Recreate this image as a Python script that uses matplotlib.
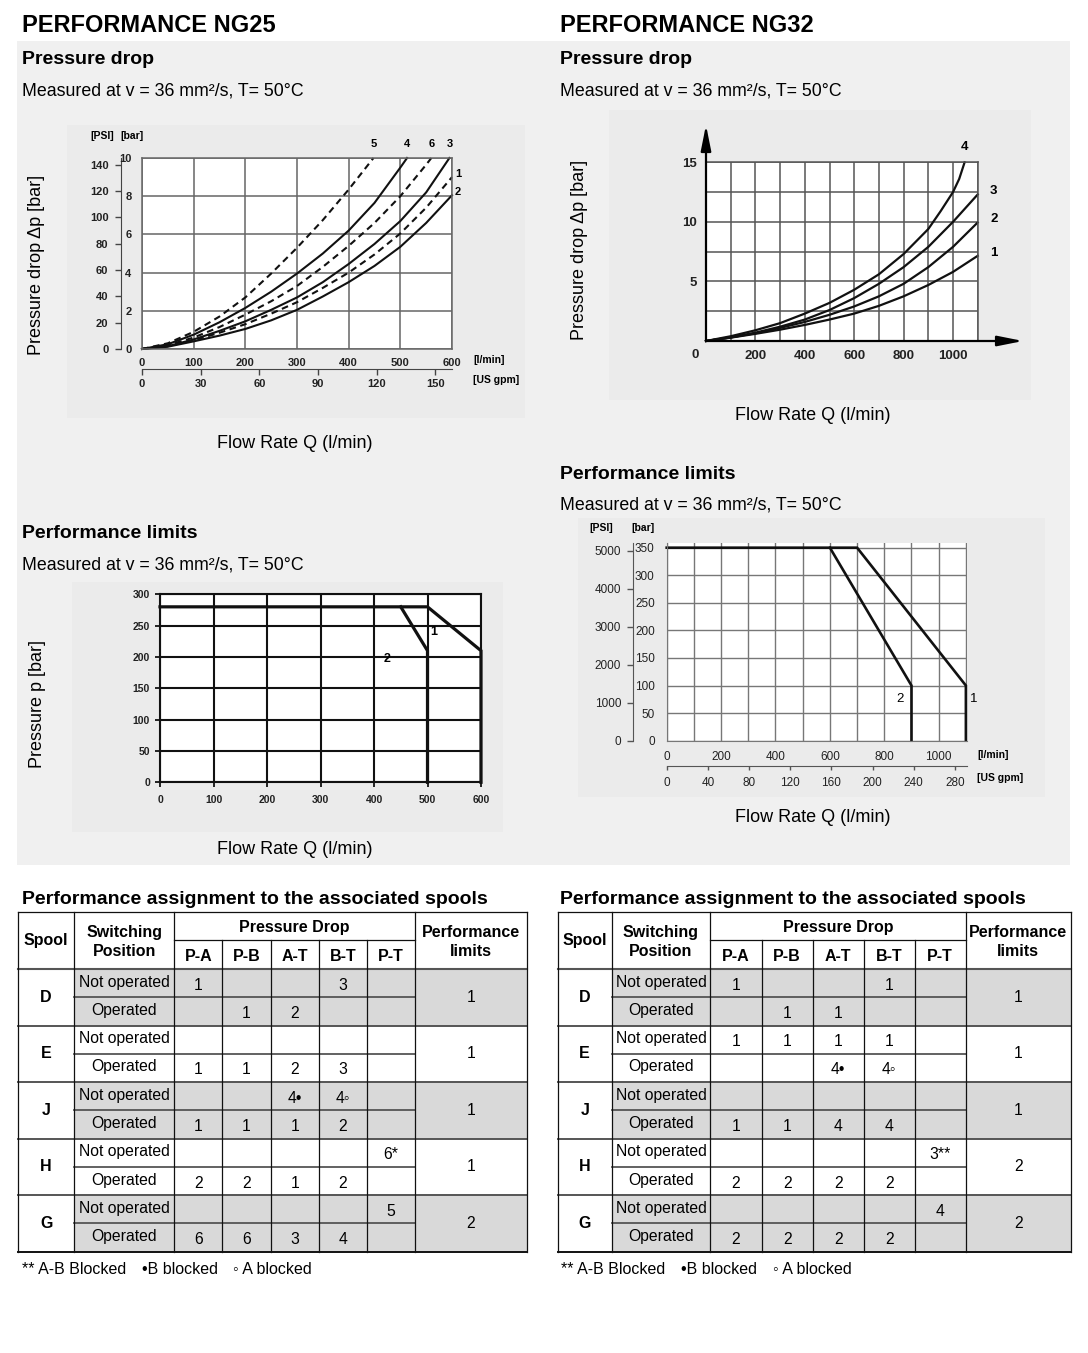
import matplotlib
matplotlib.use('Agg')
import matplotlib.pyplot as plt
from matplotlib.patches import Rectangle

plt.rcParams['font.family'] = ['Liberation Sans', 'DejaVu Sans']

# ---------------- data ----------------
# NG25 pressure drop, flow Q [l/min] vs dp [bar]
ng25_pd_labels = ['5', '4', '6', '3', '1', '2']
ng25_pd_dashed = [True, False, True, False, True, False]
ng25_pd_q = [
    [0, 50, 100, 150, 200, 250, 300, 350, 400, 448],
    [0, 50, 100, 150, 200, 250, 300, 350, 400, 450, 500, 513],
    [0, 50, 100, 150, 200, 250, 300, 350, 400, 450, 500, 550, 560],
    [0, 50, 100, 150, 200, 250, 300, 350, 400, 450, 500, 550, 595],
    [0, 50, 100, 150, 200, 250, 300, 350, 400, 450, 500, 550, 600],
    [0, 50, 100, 150, 200, 250, 300, 350, 400, 450, 500, 550, 600],
]
ng25_pd_dp = [
    [0, 0.3, 0.9, 1.7, 2.7, 3.95, 5.3, 6.75, 8.35, 10.0],
    [0, 0.25, 0.75, 1.4, 2.15, 3.0, 3.95, 5.0, 6.2, 7.65, 9.5, 10.0],
    [0, 0.2, 0.6, 1.15, 1.8, 2.5, 3.3, 4.3, 5.4, 6.6, 8.0, 9.65, 10.0],
    [0, 0.15, 0.5, 0.95, 1.45, 2.05, 2.7, 3.5, 4.45, 5.5, 6.7, 8.2, 10.0],
    [0, 0.15, 0.45, 0.85, 1.3, 1.85, 2.45, 3.2, 4.0, 4.95, 6.05, 7.4, 9.0],
    [0, 0.12, 0.4, 0.7, 1.05, 1.5, 2.05, 2.75, 3.5, 4.35, 5.35, 6.6, 8.05],
]

# NG32 pressure drop
ng32_pd_labels = ['4', '3', '2', '1']
ng32_pd_q = [
    [0, 100, 200, 300, 400, 500, 600, 700, 800, 900, 950, 1000, 1025, 1047],
    [0, 100, 200, 300, 400, 500, 600, 700, 800, 900, 1000, 1100],
    [0, 100, 200, 300, 400, 500, 600, 700, 800, 900, 1000, 1100],
    [0, 100, 200, 300, 400, 500, 600, 700, 800, 900, 1000, 1100],
]
ng32_pd_dp = [
    [0, 0.4, 0.9, 1.5, 2.3, 3.2, 4.3, 5.6, 7.3, 9.4, 10.9, 12.5, 13.6, 15.0],
    [0, 0.3, 0.7, 1.2, 1.8, 2.6, 3.6, 4.8, 6.2, 7.9, 10.0, 12.3],
    [0, 0.3, 0.65, 1.1, 1.6, 2.2, 2.9, 3.75, 4.8, 6.2, 7.9, 9.95],
    [0, 0.28, 0.6, 0.95, 1.35, 1.8, 2.3, 2.95, 3.75, 4.7, 5.8, 7.15],
]

# NG25 performance limits, Q [l/min] vs p [bar]
ng25_lim_labels = ['1', '2']
ng25_lim_q = [[0, 500, 600, 600], [450, 500, 500]]
ng25_lim_p = [[280, 280, 210, 0], [280, 210, 0]]
ng25_lim_label_xy = [(512, 240), (424, 197)]

# NG32 performance limits
ng32_lim_labels = ['1', '2']
ng32_lim_q = [[0, 700, 1100, 1100], [600, 900, 900]]
ng32_lim_p = [[350, 350, 100, 0], [350, 100, 0]]
ng32_lim_label_xy = [(1128, 76), (858, 76)]

# spool tables
spools = ['D', 'E', 'J', 'H', 'G']
positions = ['Not operated', 'Operated']
ports = ['P-A', 'P-B', 'A-T', 'B-T', 'P-T']
ng25_table = [
    ['1', '', '', '3', ''],
    ['', '1', '2', '', ''],
    ['', '', '', '', ''],
    ['1', '1', '2', '3', ''],
    ['', '', '4•', '4◦', ''],
    ['1', '1', '1', '2', ''],
    ['', '', '', '', '6*'],
    ['2', '2', '1', '2', ''],
    ['', '', '', '', '5'],
    ['6', '6', '3', '4', ''],
]
ng25_limits = ['1', '1', '1', '1', '2']
ng32_table = [
    ['1', '', '', '1', ''],
    ['', '1', '1', '', ''],
    ['1', '1', '1', '1', ''],
    ['', '', '4•', '4◦', ''],
    ['', '', '', '', ''],
    ['1', '1', '4', '4', ''],
    ['', '', '', '', '3**'],
    ['2', '2', '2', '2', ''],
    ['', '', '', '', '4'],
    ['2', '2', '2', '2', ''],
]
ng32_limits = ['1', '1', '1', '2', '2']
footnotes = ['** A-B Blocked', '•B blocked', '◦ A blocked']

BAR2PSI = 14.5038
LPM2GPM = 1 / 3.78541

# ---------------- figure ----------------
W, H = 1088, 1353
fig = plt.figure(figsize=(W / 100, H / 100), dpi=100)


def px_axes(x0, y0, x1, y1):
    # axes placed by pixel box (top-left origin)
    return fig.add_axes([x0 / W, 1 - y1 / H, (x1 - x0) / W, (y1 - y0) / H])


bg = px_axes(0, 0, W, H)
bg.set_xlim(0, W)
bg.set_ylim(H, 0)
bg.axis('off')

# grey panel and chart backgrounds
bg.add_patch(Rectangle((17, 41), 1053, 824, fc='#f0f0f0', ec='none'))
for x0, y0, x1, y1 in [(67, 125, 525, 418), (609, 110, 1031, 400),
                       (72, 582, 503, 832), (578, 518, 1045, 797)]:
    bg.add_patch(Rectangle((x0, y0), x1 - x0, y1 - y0, fc='#ebebeb', ec='none'))


def txt(x, y, s, size, weight='normal', ha='left', va='center', **kw):
    bg.text(x, y, s, fontsize=size, fontweight=weight, ha=ha, va=va, **kw)


for x0, ng in [(22, 'NG25'), (560, 'NG32')]:
    txt(x0, 32, 'PERFORMANCE ' + ng, 17, 'bold', va='baseline')
    txt(x0, 64, 'Pressure drop', 14, 'bold', va='baseline')
    txt(x0, 96, 'Measured at v = 36 mm²/s, T= 50°C', 12.8, va='baseline')
txt(22, 538, 'Performance limits', 14, 'bold', va='baseline')
txt(22, 569, 'Measured at v = 36 mm²/s, T= 50°C', 12.8, va='baseline')
txt(560, 479, 'Performance limits', 14, 'bold', va='baseline')
txt(560, 509, 'Measured at v = 36 mm²/s, T= 50°C', 12.8, va='baseline')

txt(37, 265, 'Pressure drop Δp [bar]', 13, ha='center', rotation=90)
txt(580, 250, 'Pressure drop Δp [bar]', 13, ha='center', rotation=90)
txt(37, 704, 'Pressure p [bar]', 13, ha='center', rotation=90)
txt(295, 444, 'Flow Rate Q (l/min)', 13, ha='center')
txt(813, 415, 'Flow Rate Q (l/min)', 13, ha='center')
txt(295, 849, 'Flow Rate Q (l/min)', 13, ha='center')
txt(813, 818, 'Flow Rate Q (l/min)', 13, ha='center')

INK = '#111111'

# ---------- NG25 pressure drop ----------
ax = px_axes(142, 158, 452, 349)
for lbl, q, dp, dashed in zip(ng25_pd_labels, ng25_pd_q, ng25_pd_dp, ng25_pd_dashed):
    ax.plot(q, dp, color=INK, lw=1.5, ls=(0, (3.2, 2.2)) if dashed else '-',
            clip_on=False)
    if dp[-1] >= 10:
        off = (0, 9)
    else:
        off = (6, 3)
    ax.annotate(lbl, (q[-1], dp[-1]), xytext=off, textcoords='offset pixels',
                ha='center', va='bottom' if dp[-1] >= 10 else 'center',
                fontsize=8, fontweight='bold', annotation_clip=False)
ax.set_xlim(0, 600)
ax.set_ylim(0, 10)
ax.set_xticks(range(0, 601, 100), [str(v) for v in range(0, 601, 100)],
              fontsize=8, fontweight='bold')
ax.set_yticks(range(0, 11, 2), [str(v) for v in range(0, 11, 2)],
              fontsize=8, fontweight='bold')
ax.grid(True, color='#666666', lw=1.1)
ax.set_axisbelow(True)
for s in ax.spines.values():
    s.set_color('#666666')
    s.set_linewidth(1.1)
ax.tick_params(axis='x', length=0, pad=6.5, labelcolor='#222')
ax.tick_params(axis='y', length=0, pad=7.5, labelcolor='#222')

psi = ax.secondary_yaxis(-0.068, functions=(lambda b: b * BAR2PSI, lambda p: p / BAR2PSI))
psi.set_ticks(range(0, 141, 20), [str(v) for v in range(0, 141, 20)],
              fontsize=8, fontweight='bold')
psi.tick_params(length=4, width=1, color='#444', pad=5, labelcolor='#222')
for s in psi.spines.values():
    s.set_color('#444')

gpm = ax.secondary_xaxis(-0.105, functions=(lambda q: q * LPM2GPM, lambda g: g / LPM2GPM))
gpm.set_ticks(range(0, 151, 30), [str(v) for v in range(0, 151, 30)],
              fontsize=8, fontweight='bold')
gpm.tick_params(length=4, width=1, color='#444', pad=3.5, labelcolor='#222')
for s in gpm.spines.values():
    s.set_color('#444')

txt(90, 136, '[PSI]', 7.5, 'bold')
txt(120, 136, '[bar]', 7.5, 'bold')
txt(473, 360, '[l/min]', 7.5, 'bold')
txt(473, 380, '[US gpm]', 7.5, 'bold')

# ---------- NG32 pressure drop ----------
ax = px_axes(706, 162.3, 977.7, 341)
for lbl, q, dp in zip(ng32_pd_labels, ng32_pd_q, ng32_pd_dp):
    ax.plot(q, dp, color=INK, lw=1.6, clip_on=False)
    if dp[-1] >= 15:
        ax.annotate(lbl, (q[-1], dp[-1]), xytext=(0, 9), textcoords='offset pixels',
                    ha='center', va='bottom', fontsize=9.5, fontweight='bold',
                    annotation_clip=False)
    else:
        ax.annotate(lbl, (q[-1], dp[-1]), xytext=(16, 3), textcoords='offset pixels',
                    ha='center', va='center', fontsize=9.5, fontweight='bold',
                    annotation_clip=False)
ax.set_xlim(0, 1100)
ax.set_ylim(0, 15)
ax.set_xticks(range(200, 1001, 200), [str(v) for v in range(200, 1001, 200)],
              fontsize=9.5, fontweight='bold')
ax.set_xticks(range(0, 1101, 100), minor=True)
ax.set_yticks([5, 10, 15], ['5', '10', '15'], fontsize=9.5, fontweight='bold')
ax.set_yticks([i * 2.5 for i in range(7)], minor=True)
ax.grid(True, which='both', color='#555555', lw=1.1)
ax.set_axisbelow(True)
ax.tick_params(which='both', length=0, pad=6.7, labelcolor='#222')
ax.spines['left'].set_visible(False)
ax.spines['bottom'].set_visible(False)
ax.spines['top'].set_color('#555555')
ax.spines['right'].set_color('#555555')
ax.spines['top'].set_linewidth(1.1)
ax.spines['right'].set_linewidth(1.1)
arrow = dict(arrowstyle='-|>,head_length=1.1,head_width=0.22', color='k', lw=1.6,
             shrinkA=0, shrinkB=0, mutation_scale=14)
ax.annotate('', xy=(0, 1.209), xytext=(0, 0), xycoords='axes fraction',
            arrowprops=arrow, annotation_clip=False)
ax.annotate('', xy=(1.167, 0), xytext=(0, 0), xycoords='axes fraction',
            arrowprops=arrow, annotation_clip=False)
txt(695, 355, '0', 9.5, 'bold', ha='center', color='#222')

# ---------- NG25 performance limits ----------
ax = px_axes(160, 594.3, 481, 782.3)
for q, p in zip(ng25_lim_q, ng25_lim_p):
    ax.plot(q, p, color=INK, lw=2.3, clip_on=False, solid_joinstyle='miter')
for lbl, (x, y) in zip(ng25_lim_labels, ng25_lim_label_xy):
    ax.text(x, y, lbl, fontsize=9, fontweight='bold', ha='center', va='center')
ax.set_xlim(0, 600)
ax.set_ylim(0, 300)
ax.set_xticks(range(0, 601, 100), [str(v) for v in range(0, 601, 100)],
              fontsize=7.5, fontweight='bold')
ax.set_yticks(range(0, 301, 50), [str(v) for v in range(0, 301, 50)],
              fontsize=7.5, fontweight='bold')
ax.grid(True, color=INK, lw=1.5)
ax.set_axisbelow(True)
for s in ax.spines.values():
    s.set_color(INK)
    s.set_linewidth(1.5)
ax.tick_params(axis='y', length=3.6, width=1.2, pad=3.6, labelcolor='#222')
ax.tick_params(axis='x', length=3.6, width=1.2, pad=5.3, labelcolor='#222')

# ---------- NG32 performance limits ----------
ax = px_axes(666.7, 543, 966.7, 740.7)
for q, p in zip(ng32_lim_q, ng32_lim_p):
    ax.plot(q, p, color=INK, lw=1.9, clip_on=False, solid_joinstyle='miter')
for lbl, (x, y) in zip(ng32_lim_labels, ng32_lim_label_xy):
    ax.text(x, y, lbl, fontsize=9.5, ha='center', va='center', clip_on=False)
ax.set_xlim(0, 1103)
ax.set_ylim(0, 358.5)
ax.set_xticks(range(0, 1001, 200), [str(v) for v in range(0, 1001, 200)], fontsize=8.5)
ax.set_xticks(range(0, 1101, 100), minor=True)
ax.set_yticks(range(0, 351, 50), [str(v) for v in range(0, 351, 50)], fontsize=8.5)
ax.grid(True, which='both', color='#777777', lw=1.0)
ax.set_axisbelow(True)
ax.tick_params(axis='x', which='both', length=0, pad=7.3, labelcolor='#222')
ax.tick_params(axis='y', which='both', length=0, pad=8.6, labelcolor='#222')
ax.spines['top'].set_visible(False)
ax.spines['right'].set_visible(False)
ax.spines['left'].set_color('#777777')
ax.spines['bottom'].set_color('#777777')

psi = ax.secondary_yaxis(-0.1133, functions=(lambda b: b * BAR2PSI, lambda p: p / BAR2PSI))
psi.set_ticks(range(0, 5001, 1000), [str(v) for v in range(0, 5001, 1000)], fontsize=8.5)
psi.tick_params(length=4, width=1, color='#555', pad=4.3, labelcolor='#222')
for s in psi.spines.values():
    s.set_color('#555')

gpm = ax.secondary_xaxis(-0.128, functions=(lambda q: q * LPM2GPM, lambda g: g / LPM2GPM))
gpm.set_ticks(range(0, 281, 40), [str(v) for v in range(0, 281, 40)], fontsize=8.5)
gpm.tick_params(length=3, width=1, color='#555', pad=5, labelcolor='#222')
for s in gpm.spines.values():
    s.set_color('#555')

txt(589, 528, '[PSI]', 7.5, 'bold')
txt(631, 528, '[bar]', 7.5, 'bold')
txt(977, 755, '[l/min]', 7.5, 'bold')
txt(977, 778, '[US gpm]', 7.5, 'bold')

# ---------- spool tables ----------
SHADE = '#d9d9d9'
RULE = '#555555'


def draw_table(xe, cells, limits, x_title, note_x):
    y0, ysplit, yh, yb = 912, 940.3, 969, 1251.7
    rh = (yb - yh) / (2 * len(spools))
    txt(x_title, 899, 'Performance assignment to the associated spools', 14, 'bold')
    for g in range(0, len(spools), 2):
        bg.add_patch(Rectangle((xe[1], yh + 2 * g * rh), xe[-1] - xe[1], 2 * rh,
                               fc=SHADE, ec='none'))
    bg.plot([xe[0], xe[-1]], [y0, y0], color=INK, lw=0.9)
    bg.plot([xe[2], xe[7]], [ysplit, ysplit], color=INK, lw=0.9)
    bg.plot([xe[0], xe[-1]], [yh, yh], color=RULE, lw=1.5)
    for g in range(len(spools)):
        ym = yh + (2 * g + 1) * rh
        ye = yh + (2 * g + 2) * rh
        bg.plot([xe[1], xe[7]], [ym, ym], color=RULE, lw=1.3)
        bg.plot([xe[0], xe[-1]], [ye, ye], color=RULE if g < len(spools) - 1 else INK,
                lw=1.4)
    for i, x in enumerate(xe):
        top = ysplit if 3 <= i <= 6 else y0
        bg.plot([x, x], [top, yb], color=INK, lw=0.9)

    cx = [(xe[i] + xe[i + 1]) / 2 for i in range(len(xe) - 1)]
    hs = 11.5
    txt(cx[0], 941, 'Spool', hs, 'bold', ha='center')
    txt(cx[1], 942, 'Switching\nPosition', hs, 'bold', ha='center', linespacing=1.35)
    txt((xe[2] + xe[7]) / 2, 927.5, 'Pressure Drop', hs, 'bold', ha='center')
    for j, p in enumerate(ports):
        txt(cx[2 + j], 956.5, p, hs, 'bold', ha='center')
    txt(cx[7], 942, 'Performance\nlimits', hs, 'bold', ha='center', linespacing=1.35)

    for g, sp in enumerate(spools):
        yc = yh + (2 * g + 1) * rh
        txt(cx[0], yc, sp, hs, 'bold', ha='center')
        txt(cx[7], yc, limits[g], 11.3, ha='center')
        for k, pos in enumerate(positions):
            r = 2 * g + k
            yr = yh + (r + 0.5) * rh
            txt(cx[1], yr - 1, pos, 11.3, ha='center')
            for j in range(len(ports)):
                if cells[r][j]:
                    txt(cx[2 + j], yr + 2, cells[r][j], 11.3, ha='center')

    for x, note in zip(note_x, footnotes):
        txt(x, 1270, note, 11.5)


draw_table([18, 74.3, 174.3, 222.3, 270.7, 318.7, 366.7, 414.7, 527.3],
           ng25_table, ng25_limits, 22, [22, 142, 233])
draw_table([557.7, 611.7, 710.3, 761.7, 812.7, 863.7, 914.7, 965.7, 1071],
           ng32_table, ng32_limits, 560, [561, 681, 773])

fig.savefig('out.png', dpi=100)
